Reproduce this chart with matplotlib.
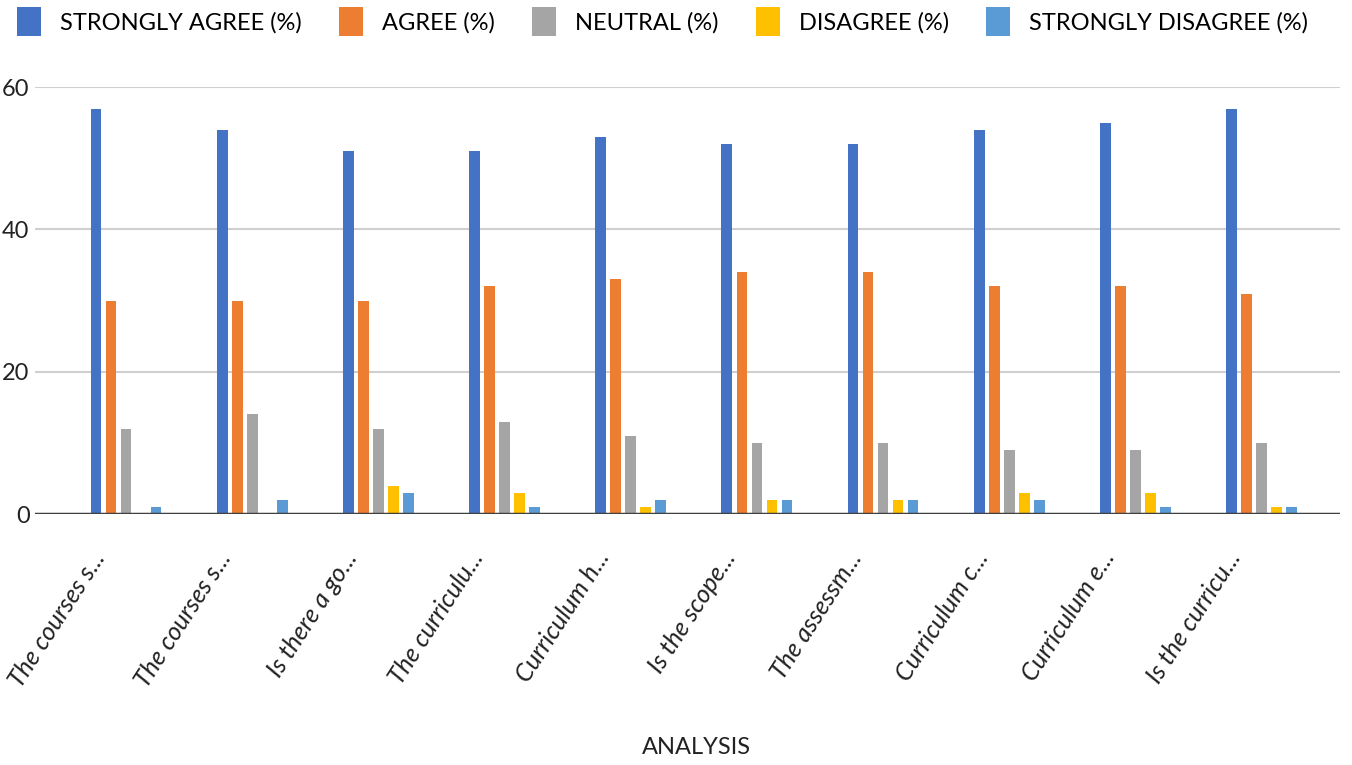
import numpy as np
import matplotlib.pyplot as plt
import matplotlib.transforms as mtransforms

plt.rcParams['font.family'] = ['Lato', 'DejaVu Sans']

questions = ['The courses s...', 'The courses s...', 'Is there a go...', 'The curriculu...',
             'Curriculum h...', 'Is the scope...', 'The assessm...', 'Curriculum c...',
             'Curriculum e...', 'Is the curricu...']

strongly_agree = [57, 54, 51, 51, 53, 52, 52, 54, 55, 57]
agree = [30, 30, 30, 32, 33, 34, 34, 32, 32, 31]
neutral = [12, 14, 12, 13, 11, 10, 10, 9, 9, 10]
disagree = [0, 0, 4, 3, 1, 2, 2, 3, 3, 1]
strongly_disagree = [1, 2, 3, 1, 2, 2, 2, 2, 1, 1]

series = [
    ('STRONGLY AGREE (%)', strongly_agree, '#4472C4'),
    ('AGREE (%)', agree, '#ED7D31'),
    ('NEUTRAL (%)', neutral, '#A5A5A5'),
    ('DISAGREE (%)', disagree, '#FFC000'),
    ('STRONGLY DISAGREE (%)', strongly_disagree, '#5B9BD5'),
]

fig = plt.figure(figsize=(13.52, 7.65), dpi=100)
ax = fig.add_axes([0.026, 0.328, 0.965, 0.558])

x = np.arange(len(questions))
step = 0.119
width = 0.085
for i, (name, vals, color) in enumerate(series):
    ax.bar(x + (i - 2) * step, vals, width, color=color, label=name, zorder=3)

ax.set_ylim(0, 60)
ax.set_xlim(-0.72, 9.62)
ax.set_yticks([0, 20, 40, 60])
ax.grid(axis='y', color='#CFCFCF', linewidth=1.5, zorder=0)
ax.axhline(0, color='#404040', linewidth=2.5, zorder=4)
for s in ax.spines.values():
    s.set_visible(False)
ax.tick_params(axis='y', length=0, labelsize=17, pad=4, labelcolor='#222222')
ax.tick_params(axis='x', length=0, pad=0)
ax.set_xticks(x)
ax.set_xticklabels(questions, rotation=57, ha='right', va='top', rotation_mode='anchor',
                   fontsize=18, style='italic', color='#222222')
# shift the rotated labels down/left like the original
offset = mtransforms.ScaledTranslation(-0.36, -0.33, fig.dpi_scale_trans)
for lab in ax.get_xticklabels():
    lab.set_transform(lab.get_transform() + offset)

fig.text(0.515, 1 - 748 / 765, 'ANALYSIS', ha='center', va='center',
         fontsize=17, color='#222222')

fig.legend(loc='upper center', bbox_to_anchor=(0.49, 1.018), ncol=5, frameon=False,
           fontsize=17, handlelength=1.0, handleheight=1.5, columnspacing=1.6,
           handletextpad=0.8)

fig.savefig('out.png', dpi=100)
